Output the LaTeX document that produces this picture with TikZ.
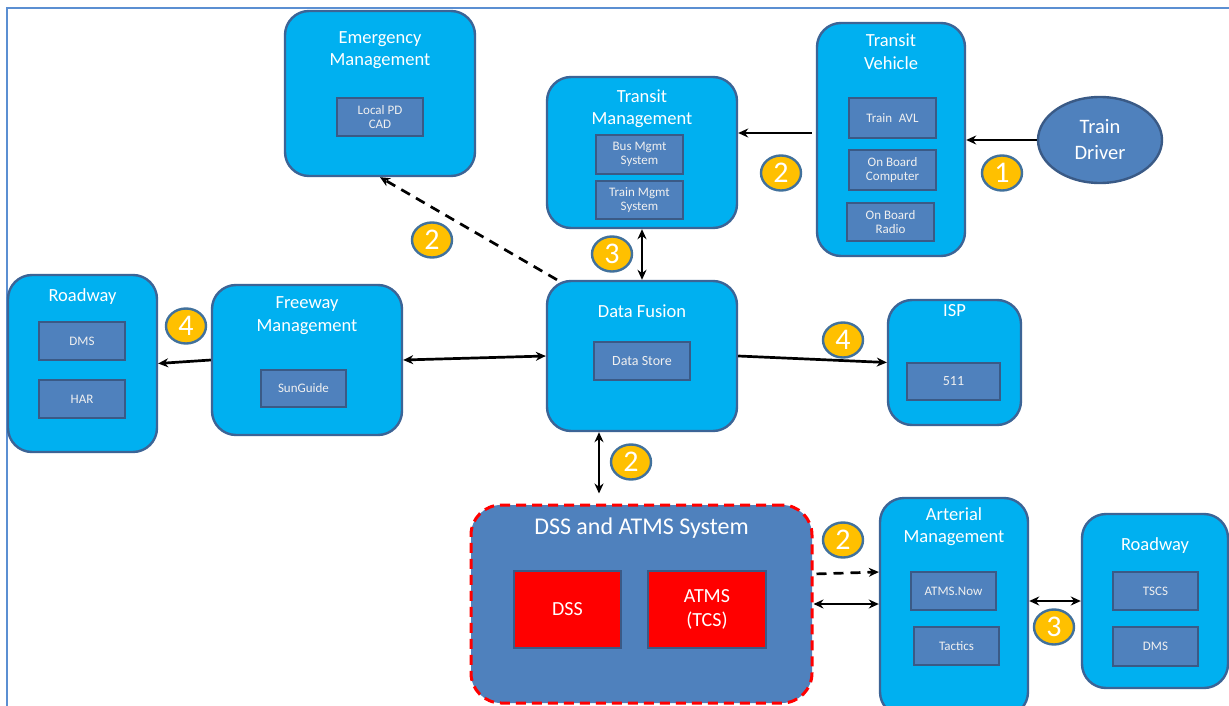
\documentclass[tikz,border=0pt]{standalone}
\usepackage{fontspec}
\setmainfont{Carlito}
\usetikzlibrary{arrows.meta,calc,shapes.geometric}

\definecolor{sysfill}{HTML}{00B0F0}
\definecolor{sysline}{HTML}{3C6496}
\definecolor{subfill}{HTML}{4F81BD}
\definecolor{subline}{HTML}{3A5A86}
\definecolor{badgefill}{HTML}{FFC000}
\definecolor{badgeline}{HTML}{41719C}
\definecolor{framecol}{HTML}{5B8FD2}
\definecolor{alertred}{HTML}{FF0000}

\tikzset{
  sysbox/.style={draw=sysline, fill=sysfill, line width=2.4pt, rounded corners=24pt, inner sep=0pt},
  subbox/.style={draw=subline, fill=subfill, line width=2.4pt, inner sep=0pt, align=center,
                 text=white!94!black, font=\fontsize{13}{14}\selectfont},
  redbox/.style={draw=subline, fill=alertred, line width=2.4pt, inner sep=0pt, align=center,
                 text=white, font=\fontsize{20}{24}\selectfont},
  title/.style={text=white, align=center, inner sep=0pt, font=\fontsize{18.5}{22.5}\selectfont},
  badge/.style={ellipse, draw=badgeline, fill=badgefill, line width=2.4pt, minimum width=40pt,
                minimum height=35pt, inner sep=0pt, text=white, font=\fontsize{30}{30}\selectfont},
  link/.style={line width=2.7pt, -{Stealth[length=10pt,width=9pt]}},
  twolink/.style={line width=2.7pt, {Stealth[length=10pt,width=9pt]}-{Stealth[length=10pt,width=9pt]}},
  dashlink/.style={link, dash pattern=on 10pt off 7pt},
}

\begin{document}
\begin{tikzpicture}[x=1pt,y=-1pt]
\useasboundingbox (0,0) rectangle (1229,706);
\clip (0,0) rectangle (1229,706);
\fill[white] (0,0) rectangle (1229,706);

% outer frame
\draw[framecol, line width=2pt] (1229,8) -- (7,8) -- (7,706);

% ---------- top row ----------
\node[sysbox, minimum width=190pt, minimum height=165pt] (em) at (380,93.5) {};
\node[title] (em-t) at (380,50) {Emergency\\Management};
\node[subbox, minimum width=86pt, minimum height=38pt] (lpd) at (380,117) {Local PD\\CAD};

\node[sysbox, minimum width=190pt, minimum height=151pt] (tm) at (642,152.5) {};
\node[title] (tm-t) at (642,108.5) {Transit\\Management};
\node[subbox, minimum width=87pt, minimum height=39pt] (bus) at (639.5,154.5) {Bus Mgmt\\System};
\node[subbox, minimum width=87pt, minimum height=38pt] (trm) at (639.5,200) {Train Mgmt\\System};

\node[sysbox, minimum width=148pt, minimum height=233pt] (tv) at (891,139.5) {};
\node[title] (tv-t) at (891,51.5) {Transit\\Vehicle};
\node[subbox, minimum width=87pt, minimum height=40pt] (avl) at (892.5,118) {Train\enspace AVL};
\node[subbox, minimum width=87pt, minimum height=40pt] (obc) at (892.5,170) {On Board\\Computer};
\node[subbox, minimum width=87pt, minimum height=38pt] (obr) at (890.5,222) {On Board\\Radio};

\node[ellipse, draw=subline, fill=subfill, line width=2.4pt, minimum width=124pt, minimum height=86pt,
      inner sep=0pt, align=center, text=white, font=\fontsize{20.5}{26}\selectfont]
      (drv) at (1100,140) {Train\\Driver};

% ---------- middle row ----------
\node[sysbox, minimum width=149pt, minimum height=177pt] (rl) at (82.5,363.5) {};
\node[title] (rl-t) at (82.5,297) {Roadway};
\node[subbox, minimum width=86pt, minimum height=38pt] (dmsl) at (82,341) {DMS};
\node[subbox, minimum width=86pt, minimum height=38pt] (har) at (82,399) {HAR};

\node[sysbox, minimum width=190pt, minimum height=150pt] (fm) at (307,360) {};
\node[title] (fm-t) at (307,315.5) {Freeway\\Management};
\node[subbox, minimum width=85pt, minimum height=37pt] (sg) at (303.5,388.5) {SunGuide};

\node[sysbox, minimum width=190pt, minimum height=150pt] (df) at (642,356) {};
\node[title] (df-t) at (642,311) {Data Fusion};
\node[subbox, minimum width=96pt, minimum height=38pt, font=\fontsize{14}{16}\selectfont] (ds) at (642,361) {Data Store};

\node[sysbox, minimum width=133pt, minimum height=125pt] (isp) at (954.5,362.5) {};
\node[title] (isp-t) at (954.5,311) {ISP};
\node[subbox, minimum width=93pt, minimum height=37pt, font=\fontsize{14}{16}\selectfont] (n511) at (953.5,381.5) {511};

% ---------- bottom row ----------
\node[draw=alertred, fill=subfill, line width=3pt, dash pattern=on 10pt off 6pt, rounded corners=30pt,
      minimum width=341pt, minimum height=198pt, inner sep=0pt] (dss) at (641.5,604) {};
\node[title, font=\fontsize{24}{28}\selectfont] (dss-t) at (641.5,528) {DSS and ATMS System};
\node[redbox, minimum width=107pt, minimum height=77pt] (dssb) at (567.5,609.5) {DSS};
\node[redbox, minimum width=118pt, minimum height=77pt] (atms) at (707,609.5) {ATMS\\(TCS)};

\node[sysbox, minimum width=148pt, minimum height=218pt] (am) at (954,607) {};
\node[title] (am-t) at (954,526.5) {Arterial\\Management};
\node[subbox, minimum width=85pt, minimum height=38pt] (atn) at (953.5,591) {ATMS.Now};
\node[subbox, minimum width=85pt, minimum height=38pt] (tac) at (956.5,646) {Tactics};

\node[sysbox, minimum width=146pt, minimum height=174pt] (rr) at (1155,601) {};
\node[title] (rr-t) at (1155,546) {Roadway};
\node[subbox, minimum width=85pt, minimum height=38pt] (tscs) at (1155.5,591) {TSCS};
\node[subbox, minimum width=85pt, minimum height=39pt] (dmsr) at (1155.5,646.5) {DMS};

% ---------- connectors ----------
\draw[link] (drv) -- (drv -| tv.east);
\draw[link, shorten <=4pt] ([yshift=6.5pt]tv.west) -- ([yshift=6.5pt]tv.west -| tm.east);
\draw[twolink] (tm.south) -- (df.north);
\draw[dashlink] ([xshift=-85pt]df.north) -- (em.south);
\draw[twolink] (fm.east) -- (df.west);
\draw[link] (fm.west) -- (rl.east);
\draw[link] (df.east) -- (isp.west);
\draw[twolink, shorten >=10pt] ([xshift=-43pt]df.south) -- ([xshift=-43pt]df.south |- dss.north);
\draw[dashlink, shorten <=3pt] ([yshift=30pt]dss.east) -- ([yshift=32pt]dss.east -| am.west);
\draw[twolink] (dss.east) -- (dss.east -| am.west);
\draw[twolink] (am.east |- rr.west) -- (rr.west);

% ---------- step badges ----------
\node[badge] (b1) at (1002,173) {1};
\node[badge] (b2a) at (781,173) {2};
\node[badge] (b3a) at (612,254) {3};
\node[badge] (b2b) at (432,240) {2};
\node[badge] (b4a) at (186,326) {4};
\node[badge] (b4b) at (843,340) {4};
\node[badge] (b2c) at (631,462) {2};
\node[badge] (b2d) at (843,540) {2};
\node[badge] (b3b) at (1054,627) {3};
\end{tikzpicture}
\end{document}
